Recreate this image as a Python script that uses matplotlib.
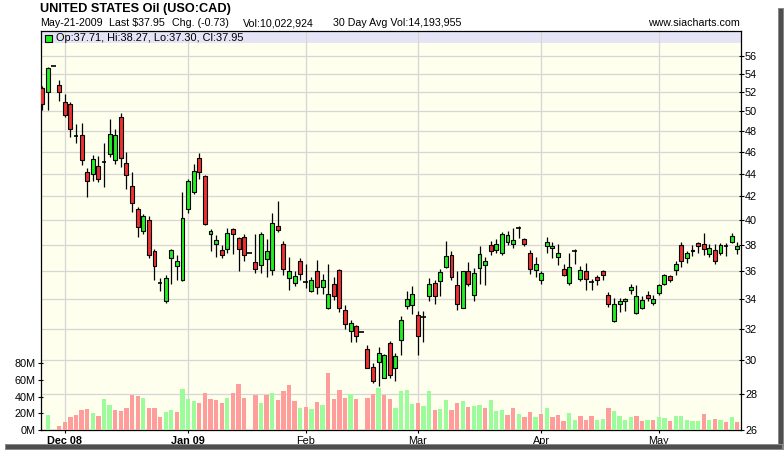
import numpy as np
import matplotlib
matplotlib.use("Agg")
import matplotlib.pyplot as plt
from matplotlib.patches import Rectangle
from matplotlib.ticker import NullLocator, NullFormatter, FuncFormatter

plt.rcParams['font.family'] = ['Liberation Sans', 'DejaVu Sans']

# ---------------- data (trading-day slots, -1 .. 123) ----------------
opens = [52.4, 52.0, 54.85, 52.8, 51.0, 50.7, 47.5, 47.6, 44.1, 44.0,
         44.7, 45.05, 45.8, 45.2, 49.4, 45.0, 42.9, 40.9, 39.1, 40.0,
         37.5, 35.15, 33.85, 37.0, 36.4, 35.4, 40.9, 42.35, 45.4, 43.8,
         38.9, 38.1, 37.6, 37.7, 39.3, 38.55, 38.6, 37.4, 36.7, 36.45,
         36.9, 36.1, 39.5, 38.1, 35.5, 35.15, 36.75, 35.2, 34.6, 36.0,
         34.85, 33.4, 35.1, 36.1, 33.25, 31.85, 32.15, 31.8, 30.7, 29.6,
         29.9, 28.95, 31.05, 29.5, 31.25, 33.5, 33.6, 32.9, 32.8, 34.2,
         35.15, 35.3, 36.3, 37.25, 35.0, 33.4, 36.05, 34.3, 36.25, 36.45,
         38.0, 37.6, 37.4, 38.25, 38.1, 39.35, 38.5, 37.4, 36.1, 35.4,
         37.9, 37.75, 37.1, 36.15, 35.15, 37.55, 35.45, 36.0, 35.2, 35.55,
         36.0, 34.3, 32.5, 33.65, 33.9, 34.65, 33.05, 33.4, 34.3, 33.75,
         34.45, 35.1, 35.65, 36.1, 38.0, 37.0, 37.5, 38.15, 38.05, 37.3,
         37.6, 37.4, 37.95, 38.2, 37.71]
highs = [52.65, 54.7, 54.85, 53.3, 51.8, 50.9, 48.7, 48.8, 44.5, 45.7,
         45.6, 46.8, 49.2, 48.2, 49.8, 46.0, 44.1, 41.1, 40.5, 40.3,
         37.7, 35.5, 35.7, 37.65, 37.2, 42.4, 43.5, 44.9, 45.85, 43.9,
         39.3, 38.75, 38.0, 39.35, 39.35, 38.65, 38.9, 37.4, 38.9, 39.0,
         38.5, 40.55, 41.6, 38.3, 37.1, 36.05, 37.0, 36.55, 35.55, 36.85,
         35.8, 36.55, 35.55, 36.15, 33.6, 32.55, 32.25, 31.8, 30.95, 29.8,
         30.85, 30.4, 31.2, 30.45, 32.85, 34.6, 34.9, 33.2, 33.2, 35.5,
         35.4, 36.15, 38.3, 37.5, 36.05, 36.05, 36.7, 36.25, 37.9, 37.1,
         38.3, 38.5, 39.0, 39.1, 39.35, 39.5, 38.55, 37.6, 37.05, 36.05,
         38.6, 38.2, 38.1, 36.55, 37.35, 37.65, 36.4, 36.6, 35.45, 35.7,
         36.1, 34.5, 34.05, 34.05, 34.05, 35.05, 35.0, 34.25, 34.6, 34.3,
         35.1, 35.8, 35.75, 36.8, 38.2, 37.55, 38.0, 38.25, 38.95, 38.1,
         38.1, 38.15, 38.15, 38.95, 38.27]
lows = [50.1, 50.1, 54.85, 51.1, 49.4, 47.4, 46.85, 44.8, 41.9, 43.3,
        43.2, 42.8, 45.5, 44.9, 44.6, 42.6, 40.7, 38.6, 38.9, 37.0,
        35.4, 34.6, 33.75, 35.1, 35.4, 35.3, 40.6, 42.15, 43.5, 39.6,
        37.55, 37.05, 37.0, 37.35, 37.3, 36.0, 36.8, 37.4, 35.85, 35.85,
        35.55, 35.7, 39.0, 35.7, 34.65, 34.9, 35.4, 34.8, 34.5, 34.35,
        34.4, 33.3, 33.95, 33.15, 32.0, 31.15, 31.15, 31.8, 29.5, 28.65,
        28.45, 28.9, 28.9, 28.75, 30.35, 33.3, 33.0, 30.3, 31.15, 33.85,
        33.65, 34.25, 36.25, 35.4, 33.25, 33.4, 34.9, 33.85, 35.05, 35.0,
        37.25, 37.4, 37.25, 38.0, 37.75, 38.55, 37.9, 35.8, 35.55, 35.1,
        37.4, 37.0, 36.45, 35.65, 35.0, 36.55, 35.3, 34.65, 34.65, 35.0,
        35.4, 33.45, 32.45, 33.15, 33.2, 34.35, 33.0, 33.3, 33.9, 33.6,
        34.3, 35.0, 35.2, 35.7, 36.3, 36.6, 37.15, 37.4, 37.25, 37.05,
        36.55, 37.2, 37.15, 38.15, 37.30]
closes = [50.7, 54.6, 54.85, 52.0, 49.6, 48.2, 47.5, 45.2, 43.3, 45.3,
          43.5, 45.05, 47.7, 47.6, 45.4, 43.9, 41.4, 39.4, 40.3, 37.25,
          36.4, 35.15, 35.5, 37.6, 36.8, 40.2, 43.3, 44.25, 44.1, 39.7,
          39.1, 38.4, 37.2, 38.95, 38.9, 37.7, 37.2, 37.4, 36.2, 38.9,
          37.55, 39.75, 39.2, 36.2, 36.05, 35.65, 35.8, 35.2, 35.4, 34.85,
          35.4, 34.4, 34.2, 33.4, 32.3, 32.4, 31.5, 31.8, 29.55, 28.75,
          30.45, 30.35, 29.1, 30.25, 32.55, 34.0, 34.35, 31.5, 32.8, 35.1,
          34.2, 35.95, 37.15, 35.55, 33.7, 36.0, 35.1, 35.85, 37.3, 36.75,
          37.55, 38.1, 38.85, 38.8, 38.4, 39.35, 38.1, 36.2, 36.55, 35.85,
          38.2, 37.95, 37.4, 35.75, 36.3, 37.55, 36.1, 35.45, 35.2, 35.35,
          35.7, 33.65, 33.7, 33.9, 34.0, 34.85, 34.2, 33.95, 34.05, 34.0,
          35.0, 35.7, 35.35, 36.55, 36.8, 37.35, 37.6, 37.9, 37.7, 37.8,
          36.8, 38.0, 37.95, 38.68, 37.95]
nan = float('nan')
volumes_m = [nan, 18, nan, 5, 10, 16, 18, 24, 25, 21,
             17, 37, 30, 24, 23, 26, 42, 41, 38, 27,
             27, 16, 22, 24, 22, 49, 37, 35, 32, 44,
             37, 36, 32, 39, 44, 55, 38, nan, 42, 32,
             42, 44, 36, 47, 54, 35, 26, 28, 25, 34,
             30, 68, 37, 48, 39, 43, 37, nan, 39, 43,
             50, 42, 37, 26, 47, 48, 31, 32, 29, 47,
             24, 25, 36, 24, 32, 35, 28, 29, 30, 27,
             36, 23, 24, 18, 27, 19, 16, 22, 16, 19,
             27, 16, 18, 11, 20, 12, 17, 12, 17, 12,
             13, 27, 23, 17, 12, 16, 17, 11, 12, 12,
             16, 15, 11, 17, 17, 12, 11, 11, 19, 12,
             13, 12, 10, 16, 10]

month_slots = [3, 25, 46, 66, 88, 109]
month_labels = ["Dec 08", "Jan 09", "Feb", "Mar", "Apr", "May"]
year_labels = {"Dec 08", "Jan 09"}
price_ticks = list(range(26, 57, 2))
volume_ticks = [0, 20, 40, 60, 80]

# ---------------- styling ----------------
W, H = 784, 450
CREAM = "#FFFFEE"
BAND = "#E4E4F6"
GREEN = "#22EE22"
RED = "#EE3030"
VGREEN = "#9CFC9C"
VRED = "#FF9C9C"
GRID = "#D6D6D6"

fig = plt.figure(figsize=(W / 100, H / 100), dpi=100)
fig.patch.set_facecolor("white")

def fx(px):
    return px / W

def fy(py):
    return 1 - py / H

left, right, top, bottom = 40.5, 740.5, 30.5, 430.0
ax = fig.add_axes([fx(left), fy(bottom), (right - left) / W, (bottom - top) / H])
ax.set_facecolor(CREAM)
axv = ax.twinx()          # volume axis drawn on top, transparent

o = np.array(opens); h = np.array(highs); l = np.array(lows); c = np.array(closes)
v = np.array(volumes_m, dtype=float)
x = np.arange(-1, -1 + len(o))

ax.set_yscale("log")
ax.set_ylim(26.0, 59.0)
ax.set_xlim(-1.338, 123.57)

# wicks
ax.vlines(x, l, h, colors="black", linewidth=0.9, zorder=3)
up = c > o + 1e-9
dn = c < o - 1e-9
dj = ~(up | dn)
bw = 0.70
ax.bar(x[up], (c - o)[up], bottom=o[up], width=bw, color=GREEN,
       edgecolor="black", linewidth=0.8, zorder=4)
ax.bar(x[dn], (o - c)[dn], bottom=c[dn], width=bw, color=RED,
       edgecolor="black", linewidth=0.8, zorder=4)
ax.hlines(c[dj], x[dj] - 0.42, x[dj] + 0.42, colors="black", linewidth=1.2, zorder=4)

# header band inside the plot
ax.add_patch(Rectangle((0, 1 - 12.8 / (bottom - top)), 1, 12.8 / (bottom - top),
                       transform=ax.transAxes, facecolor=BAND, edgecolor="none", zorder=0.5))

ax.set_yticks(price_ticks)
ax.yaxis.set_major_formatter(FuncFormatter(lambda val, pos: f"{val:.0f}"))
ax.yaxis.set_minor_locator(NullLocator())
ax.yaxis.set_minor_formatter(NullFormatter())
ax.yaxis.tick_right()
ax.set_xticks(month_slots)
ax.set_xticklabels(month_labels)
for lab in ax.get_xticklabels():
    if lab.get_text() in year_labels:
        lab.set_fontweight("bold")
ax.tick_params(axis="x", direction="out", length=2.4, width=0.8, pad=2.0,
               labelsize=7.8, colors="black")
ax.tick_params(axis="y", which="major", direction="inout", length=3.6, width=0.8,
               pad=1.5, labelsize=7.8, right=True, left=False,
               labelright=True, labelleft=False)
ax.grid(True, which="major", color=GRID, linewidth=0.9, zorder=1)
ax.set_axisbelow(True)
for s in ax.spines.values():
    s.set_color("black")
    s.set_linewidth(0.9)

# volume bars
axv.set_ylim(0, 479.4)
prev = np.concatenate([[c[0]], c[:-1]])
vcol = np.where(c >= prev, VGREEN, VRED)
mask = ~np.isnan(v)
axv.bar(x[mask], v[mask], width=0.77, color=vcol[mask], edgecolor="none", zorder=2)
axv.set_yticks(volume_ticks)
axv.yaxis.set_major_formatter(FuncFormatter(lambda val, pos: f"{val:.0f}M"))
axv.yaxis.tick_left()
axv.tick_params(axis="y", direction="inout", length=3.6, width=0.8, pad=1.5,
                labelsize=7.8, left=True, right=False, labelleft=True, labelright=False)
for s in axv.spines.values():
    s.set_visible(False)

# ---------------- header texts ----------------
fig.text(fx(40), fy(12), "UNITED STATES Oil (USO:CAD)", fontsize=9.2,
         fontweight="bold", va="baseline", ha="left")
line2 = [(40, "May-21-2009"), (109, r"Last \$37.95"), (172, "Chg. (-0.73)"),
         (243, "Vol:10,022,924"), (333, "30 Day Avg Vol:14,193,955")]
for px, t in line2:
    fig.text(fx(px), fy(26), t, fontsize=7.7, va="baseline", ha="left")
fig.text(fx(740), fy(26), "www.siacharts.com", fontsize=7.7, va="baseline", ha="right")

fig.add_artist(Rectangle((fx(45), fy(41.5)), 6.5 / W, 6.5 / H, transform=fig.transFigure,
                         facecolor=GREEN, edgecolor="black", linewidth=0.8))
fig.text(fx(55.5), fy(41.3), "Op:37.71, Hi:38.27, Lo:37.30, Cl:37.95",
         fontsize=7.9, va="baseline", ha="left")

# drop shadow of the picture frame
for (x0, y0, w0, h0, col) in [(778, 8, 6, 442, "#8a8a8a"), (779, 9, 3.5, 440, "#4e4e4e"),
                              (5, 444, 779, 6, "#8a8a8a"), (6, 445, 776, 3.5, "#4e4e4e")]:
    fig.add_artist(Rectangle((fx(x0), fy(y0 + h0)), w0 / W, h0 / H,
                             transform=fig.transFigure, facecolor=col, edgecolor="none"))

fig.savefig("out.png", dpi=100)
